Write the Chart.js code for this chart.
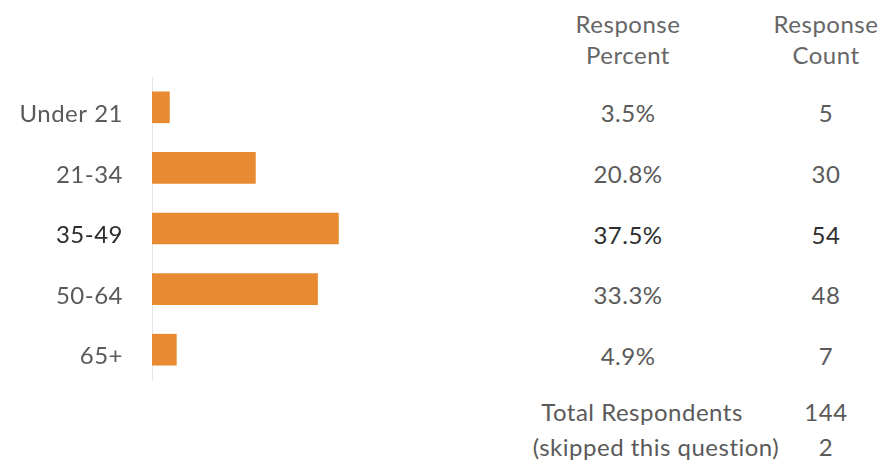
<!DOCTYPE html>
<html>
<head>
<meta charset="utf-8">
<script src="https://cdn.jsdelivr.net/npm/chart.js@4"></script>
<style>
  body { margin: 0; background: #fff; font-family: Lato, "Open Sans", sans-serif; }
  .wrap { position: relative; width: 886px; height: 471px; overflow: hidden; }
  .chart { position: absolute; left: 0; top: 0; width: 500px; height: 471px; }
  .t { position: absolute; font-size: 24px; letter-spacing: 0.5px; color: #5a5a5a; text-align: center; line-height: 32px; white-space: nowrap; transform: translateX(-50%); }
  .hd { color: #666; }
  .strong { color: #2e2e2e; }
</style>
</head>
<body>
<div class="wrap">
  <div class="chart"><canvas id="bars"></canvas></div>
  <div id="table"></div>
</div>
<script>
const ageGroups = ["Under 21", "21-34", "35-49", "50-64", "65+"];
const responsePercent = [3.5, 20.8, 37.5, 33.3, 4.9];
const responseCount = [5, 30, 54, 48, 7];
const totalRespondents = 144;
const skipped = 2;
const highlighted = "35-49";

const rowTop = 77, rowHeight = 60.6;

// small letter spacing for the axis labels, like the table text
const spacing = {
  id: "spacing",
  beforeDraw: (chart) => { chart.ctx.letterSpacing = "0.5px"; },
  afterDraw: (chart) => { chart.ctx.letterSpacing = "0px"; },
};

new Chart(document.getElementById("bars"), {
  type: "bar",
  data: {
    labels: ageGroups,
    datasets: [
      {
        data: responsePercent,
        backgroundColor: "#e88a32",
        barThickness: 31,
      },
    ],
  },
  options: {
    indexAxis: "y",
    maintainAspectRatio: false,
    responsive: true,
    animation: false,
    layout: { padding: { top: rowTop, bottom: 471 - rowTop - rowHeight * 5, left: 0, right: 0 } },
    plugins: { legend: { display: false }, tooltip: { enabled: false } },
    scales: {
      x: { display: false, min: 0, max: 70 },
      y: {
        afterFit: (scale) => { scale.width = 152; },
        border: { color: "#e3e5ec", width: 1 },
        grid: { display: false, drawTicks: false },
        ticks: {
          padding: 29,
          labelOffset: 7,
          font: { family: "Lato", size: 24 },
          color: (ctx) => (ageGroups[ctx.index] === highlighted ? "#2e2e2e" : "#5a5a5a"),
        },
      },
    },
  },
  plugins: [spacing],
});

// table text beside the bars
const table = document.getElementById("table");
function cell(text, x, y, cls) {
  const d = document.createElement("div");
  d.className = "t" + (cls ? " " + cls : "");
  d.style.left = x + "px";
  d.style.top = y - 16 + "px";
  d.textContent = text;
  table.appendChild(d);
}
cell("Response", 628, 24, "hd");
cell("Percent", 628, 55, "hd");
cell("Response", 826, 24, "hd");
cell("Count", 826, 55, "hd");
ageGroups.forEach((g, i) => {
  const y = rowTop + rowHeight * (i + 0.5) + 6;
  const cls = g === highlighted ? "strong" : "";
  cell(responsePercent[i].toFixed(1) + "%", 628, y, cls);
  cell(String(responseCount[i]), 826, y, cls);
});
cell("Total Respondents", 642, 412);
cell(String(totalRespondents), 826, 412);
cell("(skipped this question)", 656, 447);
cell(String(skipped), 826, 447);
</script>
</body>
</html>
